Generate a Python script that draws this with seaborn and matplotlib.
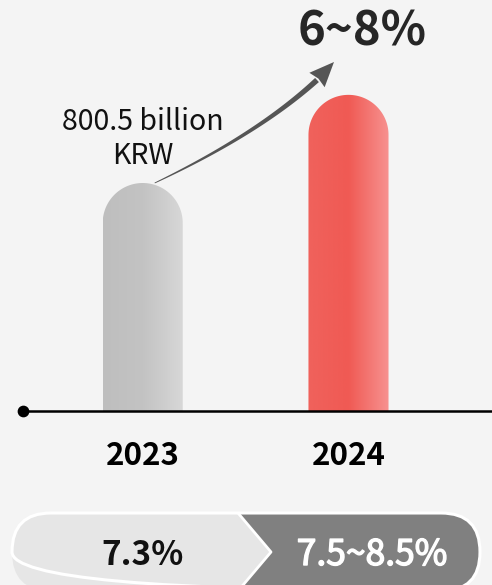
import numpy as np
import matplotlib
matplotlib.use("Agg")
import matplotlib.pyplot as plt
import matplotlib.patheffects as pe
import seaborn as sns
from matplotlib.path import Path
from matplotlib.patches import PathPatch, FancyBboxPatch, Polygon
from matplotlib.transforms import IdentityTransform
from matplotlib.colors import LinearSegmentedColormap

# ---- data -------------------------------------------------------------
years = ["2023", "2024"]
sales = [800.5, 1110.0]            # billion KRW
sales_unit = ["billion", "KRW"]
growth_label = "6~8%"
margin_labels = ["7.3%", "7.5~8.5%"]

# ---- style ------------------------------------------------------------
sns.set_theme(style="white")
plt.rcParams["font.family"] = ["Noto Sans CJK KR", "DejaVu Sans"]

W, H, DPI = 492, 585, 100
BG = "#f4f4f4"
fig = plt.figure(figsize=(W / DPI, H / DPI), dpi=DPI)
fig.patch.set_facecolor(BG)

# bar axes: bottom edge sits on the baseline
base_px = 411
ax = fig.add_axes([0, (H - base_px) / H, 1, base_px / H])
ax.set_facecolor("none")
sns.barplot(x=years, y=sales, width=0.389, ax=ax)
XLIM = (-0.6934, 1.6973)
YLIM = (0, 1443)
ax.set_xlim(*XLIM)
ax.set_ylim(*YLIM)
ax.axis("off")

# overlay axes in pixel units (origin top-left) for annotations
ax2 = fig.add_axes([0, 0, 1, 1], zorder=3)
ax2.set_xlim(0, W)
ax2.set_ylim(H, 0)
ax2.axis("off")
ax2.set_facecolor("none")

# ---- rounded gradient bars -------------------------------------------
grey_cmap = LinearSegmentedColormap.from_list(
    "grey", [(0, "#bebebe"), (0.5, "#c3c3c3"), (1, "#d8d8d8")])
red_cmap = LinearSegmentedColormap.from_list(
    "red", [(0, "#f0625c"), (0.5, "#f05a54"), (1, "#f79290")])

grad = np.linspace(0, 1, 256).reshape(1, -1)
for bar, cmap in zip(ax.patches, [grey_cmap, red_cmap]):
    x0, w, h = bar.get_x(), bar.get_width(), bar.get_height()
    bar.set_visible(False)
    (dx0, dy0), (dx1, dy1) = ax.transData.transform([(x0, 0), (x0 + w, h)])
    r = (dx1 - dx0) / 2
    xc, yc = (dx0 + dx1) / 2, dy1 - r
    t = np.linspace(0, np.pi, 80)
    verts = [(dx0, dy0), (dx1, dy0)] + list(zip(xc + r * np.cos(t), yc + r * np.sin(t))) + [(dx0, dy0)]
    clip = PathPatch(Path(verts), transform=IdentityTransform())
    im = ax.imshow(grad, cmap=cmap, extent=[x0, x0 + w, 0, h], aspect="auto",
                   interpolation="bicubic", origin="lower", zorder=2)
    im.set_clip_path(clip)

ax.set_xlim(*XLIM)
ax.set_ylim(*YLIM)

# ---- baseline ---------------------------------------------------------
x_dot = -0.583
ax.plot([x_dot, XLIM[1]], [0, 0], color="black", lw=1.8, clip_on=False,
        solid_capstyle="butt", zorder=5)
ax.scatter([x_dot], [0], s=55, color="black", clip_on=False, zorder=6)

# year labels
for i, yr in enumerate(years):
    ax.annotate(yr, xy=(i, 0), xytext=(0, -(465 - base_px)), textcoords="offset pixels",
                ha="center", va="baseline", fontsize=22.5, fontweight="bold",
                color="black", annotation_clip=False)

# value label above the 2023 bar
ax.annotate(f"{sales[0]:.1f} {sales_unit[0]}", xy=(0, sales[0]), xytext=(0, 53),
            textcoords="offset pixels", ha="center", va="baseline",
            fontsize=20.5, color="#111111", annotation_clip=False)
ax.annotate(sales_unit[1], xy=(0, sales[0]), xytext=(0, 19),
            textcoords="offset pixels", ha="center", va="baseline",
            fontsize=20.5, color="#111111", annotation_clip=False)

# ---- tapered growth arrow --------------------------------------------
sx, sy = ax.transData.transform((0, sales[0]))
P0 = np.array([sx + 12, H - sy])
tip = np.array([334.0, 62.0])
S = np.array([317.0, 80.0])
P1 = np.array([258.0, 134.0])
tt = np.linspace(0, 1, 120)[:, None]
curve = (1 - tt) ** 2 * P0 + 2 * (1 - tt) * tt * P1 + tt ** 2 * S
deriv = 2 * (1 - tt) * (P1 - P0) + 2 * tt * (S - P1)
nrm = np.stack([-deriv[:, 1], deriv[:, 0]], axis=1)
nrm /= np.linalg.norm(nrm, axis=1, keepdims=True)
half = (0.4 + 2.4 * tt[:, 0] ** 0.8)[:, None]
shaft = np.vstack([curve + half * nrm, (curve - half * nrm)[::-1]])
ax2.add_patch(Polygon(shaft, closed=True, fc="#555555", ec="none", zorder=4))
d = (tip - S) / np.linalg.norm(tip - S)
n = np.array([-d[1], d[0]])
head = [S + 10.5 * n, tip, S - 10.5 * n, S + 2 * d]
ax2.add_patch(Polygon(head, closed=True, fc="#555555", ec="none", zorder=4))

ax2.text(362, 45, growth_label, ha="center", va="baseline", fontsize=34,
         fontweight="bold", color="#262626")

# ---- margin pill ------------------------------------------------------
px0, py0, pw, ph = 12, 513, 468, 78
pill = FancyBboxPatch((px0, py0), pw, ph, boxstyle=f"round,pad=0,rounding_size={ph/2}",
                      fc="#e6e6e6", ec="none", zorder=2)
ax2.add_patch(pill)
cx_top, cx_tip = 238, 271
mid_y = py0 + ph / 2
dark = Polygon([(cx_top, py0), (cx_tip, mid_y), (cx_top, py0 + ph), (px0 + pw + 5, py0 + ph),
                (px0 + pw + 5, py0)], closed=True, fc="#808080", ec="none", zorder=3)
ax2.add_patch(dark)
dark.set_clip_path(pill)
chev, = ax2.plot([cx_top, cx_tip, cx_top], [py0, mid_y, py0 + ph], color="white", lw=2, zorder=4)
chev.set_clip_path(pill)
ax2.add_patch(FancyBboxPatch((px0, py0), pw, ph, boxstyle=f"round,pad=0,rounding_size={ph/2}",
                             fc="none", ec="white", lw=2.2, zorder=5))

ax2.text(143, 565, margin_labels[0], ha="center", va="baseline", fontsize=24,
         fontweight="bold", color="#111111", zorder=6)
ax2.text(372, 565, margin_labels[1], ha="center", va="baseline", fontsize=25.5,
         color="white", zorder=6,
         path_effects=[pe.withStroke(linewidth=1.0, foreground="white")])

fig.savefig("out.png", dpi=DPI, facecolor=BG)
